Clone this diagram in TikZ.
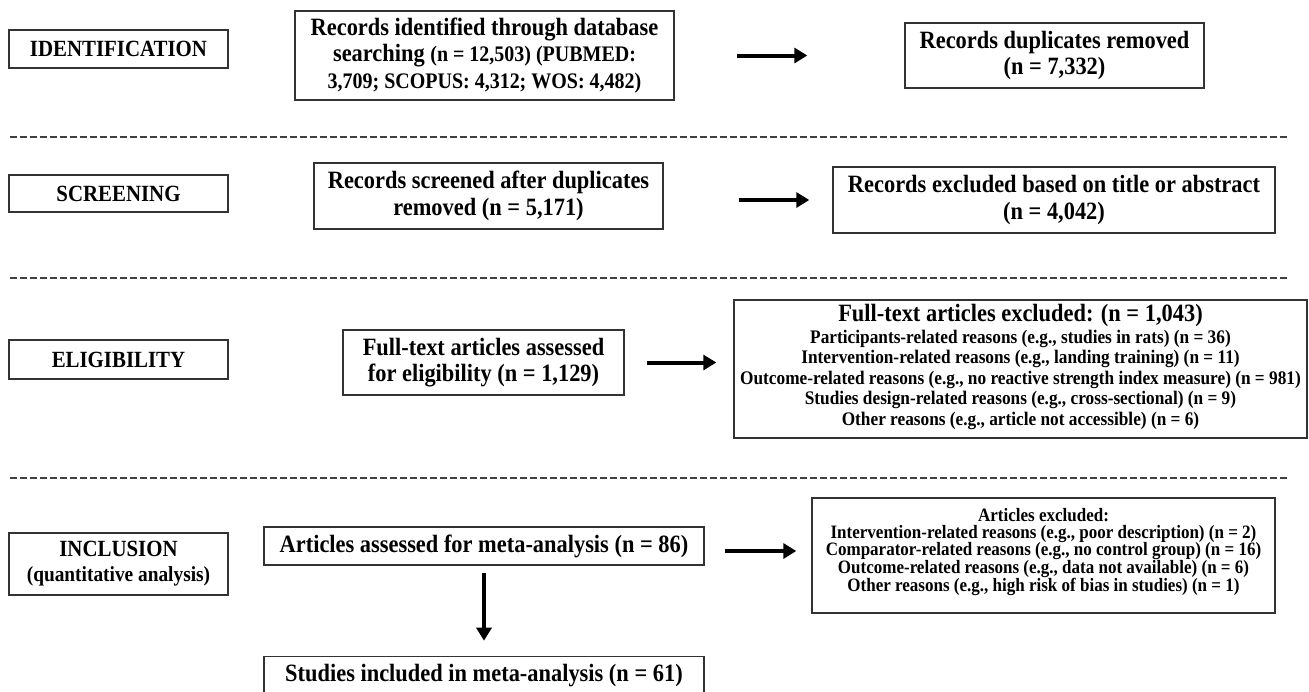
\documentclass[tikz,border=0pt]{standalone}
\usepackage{fontspec}
\setmainfont{Liberation Serif}[FakeStretch=0.9]
\usetikzlibrary{positioning,arrows.meta}
\newcommand{\fsmain}{\fontsize{24.9}{26.5}\selectfont}
\newcommand{\fslab}{\fontsize{23.2}{25}\selectfont}
\newcommand{\fsdet}{\fontsize{22.2}{26.5}\selectfont}
\newcommand{\fssmall}{\fontsize{19.2}{20.5}\selectfont}
\newcommand{\fstiny}{\fontsize{18.9}{17.3}\selectfont}

\begin{document}
\begin{tikzpicture}[x=1pt,y=-1pt,
  box/.style={draw=black!80,line width=1.4pt,align=center,inner sep=2pt,font=\fsmain\bfseries},
  phase/.style={box,minimum width=219pt,font=\fslab\bfseries},
  sep/.style={draw=black!75,line width=1.4pt,dash pattern=on 7pt off 3pt},
  arr/.style={line width=4pt,-{Triangle[length=13pt,width=15pt]}}]
  \useasboundingbox (0,0) rectangle (1309,691);

  % phases on the left
  \node[phase,minimum height=38pt] (ident) at (118.5,49) {IDENTIFICATION};
  \node[phase,minimum height=37pt] (scr) at (118.5,193.5) {SCREENING};
  \node[phase,minimum height=39pt] (elig) at (118.5,359.5) {ELIGIBILITY};
  \node[phase,minimum height=62pt] (incl) at (118.5,564) {INCLUSION\\{\fontsize{21.5}{25}\selectfont(quantitative analysis)}};

  \foreach \y in {137,278,478}
    \draw[sep] (10,\y) -- (1288,\y);

  \node[box,minimum width=379pt,minimum height=89pt] (recid) at (484.5,55.5)
    {Records identified through database\\searching {\fsdet (n = 12,503) (PUBMED:}\\{\fsdet 3,709; SCOPUS: 4,312; WOS: 4,482)}};
  \node[box,minimum width=299pt,minimum height=65pt] (dup) at (1054.5,55.5)
    {Records duplicates removed\\(n = 7,332)};

  \node[box,minimum width=349pt,minimum height=66pt] (recscr) at (488.5,196)
    {Records screened after duplicates\\removed (n = 5,171)};
  \node[box,minimum width=442pt,minimum height=66pt] (recexc) at (1054,200)
    {Records excluded based on title or abstract\\(n = 4,042)};

  \node[box,minimum width=281pt,minimum height=65pt] (fta) at (483.5,362.5)
    {Full-text articles assessed\\for eligibility (n = 1,129)};
  \node[box,minimum width=573pt,minimum height=138pt,text depth=8pt,font=\fssmall\bfseries] (ftex) at (1020.5,369)
    {{\fsmain Full-text articles excluded: (n = 1,043)}\\[1pt]
     Participants-related reasons (e.g., studies in rats) (n = 36)\\
     Intervention-related reasons (e.g., landing training) (n = 11)\\
     Outcome-related reasons (e.g., no reactive strength index measure) (n = 981)\\
     Studies design-related reasons (e.g., cross-sectional) (n = 9)\\
     Other reasons (e.g., article not accessible) (n = 6)};

  \node[box,minimum width=440pt,minimum height=38pt] (aam) at (484,546)
    {Articles assessed for meta-analysis (n = 86)};
  \node[box,minimum width=463pt,minimum height=115pt,text depth=11pt,font=\fstiny\bfseries] (aexc) at (1043.5,555.5)
    {Articles excluded:\\
     Intervention-related reasons (e.g., poor description) (n = 2)\\
     Comparator-related reasons (e.g., no control group) (n = 16)\\
     Outcome-related reasons (e.g., data not available) (n = 6)\\
     Other reasons (e.g., high risk of bias in studies) (n = 1)};
  \node[box,minimum width=440pt,minimum height=38pt,below=90pt of aam] (stud)
    {Studies included in meta-analysis (n = 61)};

  \draw[arr,shorten <=62pt,shorten >=97pt] (recid) -- (dup);
  \draw[arr,shorten <=75pt,shorten >=23pt] (recscr.east |- recexc) -- (recexc.west);
  \draw[arr,shorten <=22pt,shorten >=17pt] (fta.east) -- (fta.east -| ftex.west);
  \draw[arr,shorten <=20pt,shorten >=15pt] ([yshift=-5pt]aam.east) -- ([yshift=-5pt]aam.east -| aexc.west);
  \draw[arr,shorten <=7pt,shorten >=15pt] (aam) -- (stud);
\end{tikzpicture}
\end{document}
